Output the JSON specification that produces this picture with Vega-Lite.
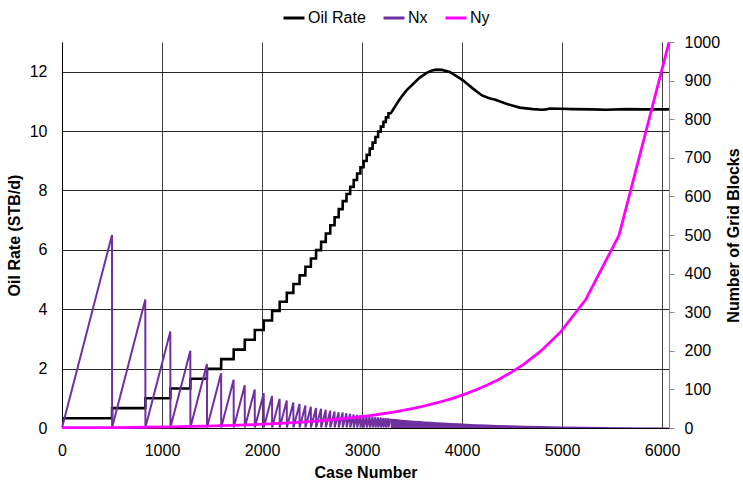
{
  "$schema": "https://vega.github.io/schema/vega-lite/v6.json",
  "width": 607,
  "height": 386,
  "autosize": {"type": "none"},
  "padding": {"left": 62, "top": 42, "right": 74, "bottom": 55},
  "background": "#ffffff",
  "config": {
    "font": "Liberation Sans",
    "view": {"stroke": null},
    "axis": {
      "labelFont": "Liberation Sans",
      "labelFontSize": 16,
      "labelColor": "#000000",
      "titleFont": "Liberation Sans",
      "titleFontSize": 16,
      "titleFontWeight": "bold",
      "titleColor": "#000000",
      "labelFlush": false,
      "labelOverlap": false,
      "format": "d"
    }
  },
  "datasets": {
    "oil": [
      {"case": 0, "rate": 0.33}, {"case": 500, "rate": 0.33},
      {"case": 501, "rate": 0.67}, {"case": 833, "rate": 0.67},
      {"case": 834, "rate": 1.0}, {"case": 1083, "rate": 1.0},
      {"case": 1084, "rate": 1.33}, {"case": 1283, "rate": 1.33},
      {"case": 1284, "rate": 1.66}, {"case": 1449, "rate": 1.66},
      {"case": 1450, "rate": 1.99}, {"case": 1591, "rate": 1.99},
      {"case": 1592, "rate": 2.32}, {"case": 1716, "rate": 2.32},
      {"case": 1717, "rate": 2.64}, {"case": 1827, "rate": 2.64},
      {"case": 1828, "rate": 2.97}, {"case": 1927, "rate": 2.97},
      {"case": 1928, "rate": 3.30}, {"case": 2017, "rate": 3.30},
      {"case": 2018, "rate": 3.62}, {"case": 2100, "rate": 3.62},
      {"case": 2101, "rate": 3.94}, {"case": 2176, "rate": 3.94},
      {"case": 2177, "rate": 4.25}, {"case": 2247, "rate": 4.25},
      {"case": 2248, "rate": 4.55}, {"case": 2313, "rate": 4.55},
      {"case": 2314, "rate": 4.85}, {"case": 2375, "rate": 4.85},
      {"case": 2376, "rate": 5.14}, {"case": 2433, "rate": 5.14},
      {"case": 2434, "rate": 5.43}, {"case": 2488, "rate": 5.43},
      {"case": 2489, "rate": 5.71}, {"case": 2540, "rate": 5.71},
      {"case": 2541, "rate": 5.99}, {"case": 2590, "rate": 5.99},
      {"case": 2591, "rate": 6.27}, {"case": 2637, "rate": 6.27},
      {"case": 2638, "rate": 6.55}, {"case": 2682, "rate": 6.55},
      {"case": 2683, "rate": 6.83}, {"case": 2725, "rate": 6.83},
      {"case": 2726, "rate": 7.10}, {"case": 2766, "rate": 7.10},
      {"case": 2767, "rate": 7.37}, {"case": 2806, "rate": 7.37},
      {"case": 2807, "rate": 7.64}, {"case": 2844, "rate": 7.64},
      {"case": 2845, "rate": 7.88}, {"case": 2881, "rate": 7.88},
      {"case": 2882, "rate": 8.12}, {"case": 2916, "rate": 8.12},
      {"case": 2917, "rate": 8.35}, {"case": 2950, "rate": 8.35},
      {"case": 2951, "rate": 8.57}, {"case": 2983, "rate": 8.57},
      {"case": 2984, "rate": 8.78}, {"case": 3015, "rate": 8.78},
      {"case": 3016, "rate": 8.99}, {"case": 3046, "rate": 8.99},
      {"case": 3047, "rate": 9.20}, {"case": 3076, "rate": 9.20},
      {"case": 3077, "rate": 9.41}, {"case": 3105, "rate": 9.41},
      {"case": 3106, "rate": 9.61}, {"case": 3133, "rate": 9.61},
      {"case": 3134, "rate": 9.80}, {"case": 3160, "rate": 9.80},
      {"case": 3161, "rate": 9.98}, {"case": 3187, "rate": 9.98},
      {"case": 3188, "rate": 10.15}, {"case": 3213, "rate": 10.15},
      {"case": 3214, "rate": 10.31}, {"case": 3238, "rate": 10.31},
      {"case": 3239, "rate": 10.46}, {"case": 3263, "rate": 10.46},
      {"case": 3264, "rate": 10.60}, {"case": 3287, "rate": 10.60},
      {"case": 3310, "rate": 10.72}, {"case": 3355, "rate": 10.96},
      {"case": 3398, "rate": 11.17}, {"case": 3444, "rate": 11.37},
      {"case": 3500, "rate": 11.55}, {"case": 3577, "rate": 11.80},
      {"case": 3650, "rate": 11.97}, {"case": 3700, "rate": 12.04},
      {"case": 3744, "rate": 12.07}, {"case": 3800, "rate": 12.06},
      {"case": 3877, "rate": 11.99}, {"case": 3940, "rate": 11.86},
      {"case": 4009, "rate": 11.71}, {"case": 4109, "rate": 11.43},
      {"case": 4200, "rate": 11.20}, {"case": 4259, "rate": 11.12},
      {"case": 4290, "rate": 11.09}, {"case": 4326, "rate": 11.06},
      {"case": 4442, "rate": 10.92}, {"case": 4575, "rate": 10.79},
      {"case": 4708, "rate": 10.74}, {"case": 4800, "rate": 10.72},
      {"case": 4841, "rate": 10.73}, {"case": 4875, "rate": 10.76},
      {"case": 5000, "rate": 10.75}, {"case": 5107, "rate": 10.74},
      {"case": 5300, "rate": 10.73}, {"case": 5441, "rate": 10.72},
      {"case": 5641, "rate": 10.74}, {"case": 5800, "rate": 10.73},
      {"case": 6069, "rate": 10.73}
    ],
    "nx": [
      {"case": 1, "n": 1}, {"case": 500, "n": 500},
      {"case": 501, "n": 1}, {"case": 833, "n": 333},
      {"case": 834, "n": 1}, {"case": 1083, "n": 250},
      {"case": 1084, "n": 1}, {"case": 1283, "n": 200},
      {"case": 1284, "n": 1}, {"case": 1449, "n": 166},
      {"case": 1450, "n": 1}, {"case": 1591, "n": 142},
      {"case": 1592, "n": 1}, {"case": 1716, "n": 125},
      {"case": 1717, "n": 1}, {"case": 1827, "n": 111},
      {"case": 1828, "n": 1}, {"case": 1927, "n": 100},
      {"case": 1928, "n": 1}, {"case": 2017, "n": 90},
      {"case": 2018, "n": 1}, {"case": 2100, "n": 83},
      {"case": 2101, "n": 1}, {"case": 2176, "n": 76},
      {"case": 2177, "n": 1}, {"case": 2247, "n": 71},
      {"case": 2248, "n": 1}, {"case": 2313, "n": 66},
      {"case": 2314, "n": 1}, {"case": 2375, "n": 62},
      {"case": 2376, "n": 1}, {"case": 2433, "n": 58},
      {"case": 2434, "n": 1}, {"case": 2488, "n": 55},
      {"case": 2489, "n": 1}, {"case": 2540, "n": 52},
      {"case": 2541, "n": 1}, {"case": 2590, "n": 50},
      {"case": 2591, "n": 1}, {"case": 2637, "n": 47},
      {"case": 2638, "n": 1}, {"case": 2682, "n": 45},
      {"case": 2683, "n": 1}, {"case": 2725, "n": 43},
      {"case": 2726, "n": 1}, {"case": 2766, "n": 41},
      {"case": 2767, "n": 1}, {"case": 2806, "n": 40},
      {"case": 2807, "n": 1}, {"case": 2844, "n": 38},
      {"case": 2845, "n": 1}, {"case": 2881, "n": 37},
      {"case": 2882, "n": 1}, {"case": 2916, "n": 35},
      {"case": 2917, "n": 1}, {"case": 2950, "n": 34},
      {"case": 2951, "n": 1}, {"case": 2983, "n": 33},
      {"case": 2984, "n": 1}, {"case": 3015, "n": 32},
      {"case": 3016, "n": 1}, {"case": 3046, "n": 31},
      {"case": 3047, "n": 1}, {"case": 3076, "n": 30},
      {"case": 3077, "n": 1}, {"case": 3105, "n": 29},
      {"case": 3106, "n": 1}, {"case": 3133, "n": 28},
      {"case": 3134, "n": 1}, {"case": 3160, "n": 27},
      {"case": 3161, "n": 1}, {"case": 3187, "n": 27},
      {"case": 3188, "n": 1}, {"case": 3213, "n": 26},
      {"case": 3214, "n": 1}, {"case": 3238, "n": 25},
      {"case": 3239, "n": 1}, {"case": 3263, "n": 25},
      {"case": 3264, "n": 1}, {"case": 3287, "n": 24}
    ],
    "nxDense": [
      {"case": 3287, "n": 24}, {"case": 3333, "n": 23}, {"case": 3377, "n": 22},
      {"case": 3419, "n": 21}, {"case": 3459, "n": 20}, {"case": 3517, "n": 19},
      {"case": 3571, "n": 18}, {"case": 3622, "n": 17}, {"case": 3686, "n": 16},
      {"case": 3746, "n": 15}, {"case": 3816, "n": 14}, {"case": 3881, "n": 13},
      {"case": 3965, "n": 12}, {"case": 4042, "n": 11}, {"case": 4142, "n": 10},
      {"case": 4241, "n": 9}, {"case": 4353, "n": 8}, {"case": 4472, "n": 7},
      {"case": 4616, "n": 6}, {"case": 4786, "n": 5}, {"case": 4986, "n": 4},
      {"case": 5235, "n": 3}, {"case": 5569, "n": 2}, {"case": 6069, "n": 1}
    ],
    "ny": [
      {"case": 0, "n": 1}, {"case": 500, "n": 1}, {"case": 833, "n": 2},
      {"case": 1083, "n": 3}, {"case": 1283, "n": 4}, {"case": 1449, "n": 5},
      {"case": 1591, "n": 6}, {"case": 1716, "n": 7}, {"case": 1827, "n": 8},
      {"case": 1927, "n": 9}, {"case": 2017, "n": 10}, {"case": 2176, "n": 12},
      {"case": 2313, "n": 14}, {"case": 2433, "n": 16}, {"case": 2540, "n": 18},
      {"case": 2637, "n": 20}, {"case": 2766, "n": 23}, {"case": 2881, "n": 26},
      {"case": 2983, "n": 29}, {"case": 3076, "n": 32}, {"case": 3160, "n": 35},
      {"case": 3263, "n": 39}, {"case": 3333, "n": 42}, {"case": 3398, "n": 45},
      {"case": 3459, "n": 48}, {"case": 3517, "n": 51}, {"case": 3571, "n": 54},
      {"case": 3622, "n": 57}, {"case": 3686, "n": 61}, {"case": 3746, "n": 65},
      {"case": 3816, "n": 70}, {"case": 3881, "n": 75}, {"case": 3965, "n": 82},
      {"case": 4042, "n": 89}, {"case": 4142, "n": 99}, {"case": 4241, "n": 110},
      {"case": 4353, "n": 124}, {"case": 4472, "n": 141}, {"case": 4616, "n": 165},
      {"case": 4786, "n": 199}, {"case": 4986, "n": 249}, {"case": 5235, "n": 332},
      {"case": 5569, "n": 499}, {"case": 6069, "n": 999}
    ]
  },
  "layer": [
    {
      "data": {"name": "oil"},
      "mark": {"type": "line", "strokeWidth": 2.6, "strokeJoin": "miter"},
      "encoding": {
        "x": {
          "field": "case",
          "type": "quantitative",
          "scale": {"domain": [0, 6069], "nice": false, "zero": true},
          "axis": {
            "title": "Case Number",
            "values": [0, 1000, 2000, 3000, 4000, 5000, 6000],
            "format": "d",
            "grid": true,
            "gridColor": "#000000",
            "gridOpacity": 0.75,
            "gridWidth": 1,
            "tickSize": 0,
            "labelPadding": 14,
            "domainColor": "#000000",
            "titlePadding": 6
          }
        },
        "y": {
          "field": "rate",
          "type": "quantitative",
          "scale": {"domain": [0, 13], "nice": false},
          "axis": {
            "orient": "left",
            "title": "Oil Rate (STB/d)",
            "values": [0, 2, 4, 6, 8, 10, 12],
            "format": "d",
            "grid": true,
            "gridColor": "#000000",
            "gridOpacity": 0.85,
            "gridWidth": 1,
            "tickSize": 0,
            "labelPadding": 15,
            "domainColor": "#000000",
            "titlePadding": 7
          }
        },
        "color": {
          "datum": "Oil Rate",
          "type": "nominal",
          "scale": {
            "domain": ["Oil Rate", "Nx", "Ny"],
            "range": ["#000000", "#7030A0", "#FF00FF"]
          },
          "legend": {
            "title": null,
            "orient": "none",
            "direction": "horizontal",
            "legendX": 220,
            "legendY": -36,
            "symbolType": "stroke",
            "symbolSize": 441,
            "symbolStrokeWidth": 3,
            "labelFont": "Liberation Sans",
            "labelFontSize": 16,
            "labelColor": "#000000",
            "labelOffset": 2,
            "columnPadding": 11
          }
        }
      }
    },
    {
      "encoding": {
        "x": {"field": "case", "type": "quantitative"},
        "y": {
          "field": "n",
          "type": "quantitative",
          "scale": {"domain": [0, 1000], "nice": false},
          "axis": {
            "orient": "right",
            "title": "Number of Grid Blocks",
            "titleAngle": 270,
            "titleBaseline": "top",
            "values": [0, 100, 200, 300, 400, 500, 600, 700, 800, 900, 1000],
            "format": "d",
            "grid": false,
            "tickSize": 5,
            "tickColor": "#868686",
            "domainColor": "#868686",
            "labelPadding": 10,
            "titlePadding": 6
          }
        }
      },
      "layer": [
        {
          "data": {"name": "nxDense"},
          "mark": {"type": "area", "color": "#7030A0"}
        },
        {
          "data": {"name": "nx"},
          "mark": {"type": "line", "strokeWidth": 2},
          "encoding": {"color": {"datum": "Nx", "type": "nominal"}}
        },
        {
          "data": {"name": "ny"},
          "mark": {"type": "line", "strokeWidth": 2.8},
          "encoding": {"color": {"datum": "Ny", "type": "nominal"}}
        }
      ]
    }
  ],
  "resolve": {"scale": {"y": "independent"}}
}
